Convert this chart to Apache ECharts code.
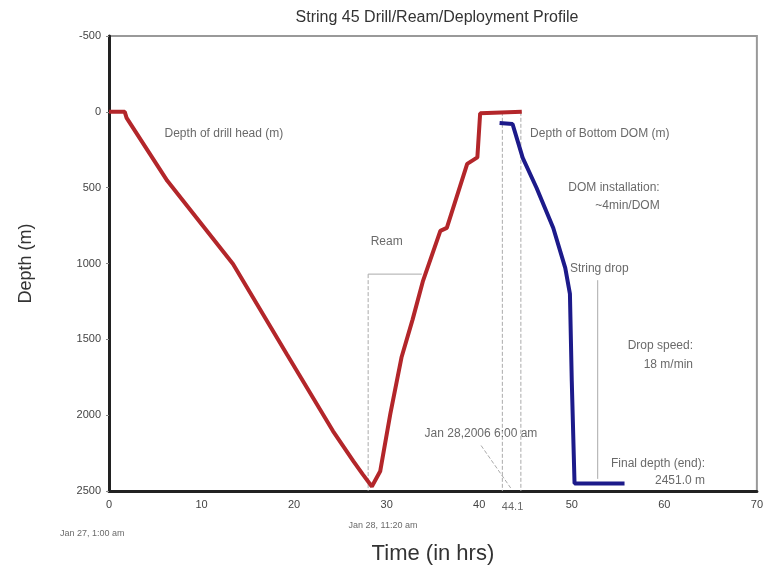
<!DOCTYPE html>
<html><head><meta charset="utf-8">
<script src="https://cdn.jsdelivr.net/npm/echarts@6/dist/echarts.min.js"></script>
<style>html,body{margin:0;padding:0;background:#fff}#c{width:766px;height:578px}</style>
</head><body><div id="c"></div>
<script>
const title = 'String 45 Drill/Ream/Deployment Profile';
const xTicks = [0, 10, 20, 30, 40, 50, 60, 70];
const yTicks = [-500, 0, 500, 1000, 1500, 2000, 2500];
const drillHead = [[0,0],[1.7,0],[1.9,40],[6.3,455],[13.4,1003],[19.2,1597],[24.2,2105],[26.4,2303],[27.4,2389],[28.4,2470],[29.3,2370],[30.4,1990],[31.6,1620],[32.8,1370],[33.9,1120],[35.8,785],[36.5,765],[38.7,343],[39.8,300],[40.1,10],[40.3,0],[44.6,0]];
const bottomDom = [[42.2,73],[43.6,80],[44.7,304],[46.2,502],[48.0,766],[49.3,1030],[49.8,1200],[50.0,1775],[50.3,2451],[55.7,2451]];
// annotation texts: [time, depth, text, align]
const notes = [
  [6.0, 145, 'Depth of drill head (m)', 'left'],
  [45.5, 145, 'Depth of Bottom DOM (m)', 'left'],
  [59.5, 500, 'DOM installation:', 'right'],
  [59.5, 620, '~4min/DOM', 'right'],
  [30.0, 858, 'Ream', 'center'],
  [49.8, 1036, 'String drop', 'left'],
  [63.1, 1545, 'Drop speed:', 'right'],
  [63.1, 1670, '18 m/min', 'right'],
  [34.1, 2119, 'Jan 28,2006 6:00 am', 'left'],
  [64.4, 2317, 'Final depth (end):', 'right'],
  [64.4, 2435, '2451.0 m', 'right']
];
const smallNotes = [
  [-1.8, 2780, 'Jan 27, 1:00 am', 9],
  [29.6, 2725, 'Jan 28, 11:20 am', 9],
  [43.6, 2605, '44.1', 11]
];
const guideLines = [
  [[42.5, 0], [42.5, 2500], 'dashed'],
  [[44.5, 0], [44.5, 2500], 'dashed'],
  [[40.2, 2200], [43.4, 2480], 'dashed'],
  [[52.8, 1110], [52.8, 2420], 'solid'],
  [[28.0, 1070], [33.8, 1070], 'solid'],
  [[28.0, 1070], [28.0, 2500], 'dashed']
];
const chart = echarts.init(document.getElementById('c'));
const series = [
  {type:'line', data: drillHead, showSymbol:false, lineStyle:{color:'#b3262a', width:4}, z:5},
  {type:'line', data: bottomDom, showSymbol:false, lineStyle:{color:'#1c1a8a', width:4}, z:5},
  {type:'scatter', symbolSize:0, clip:false, silent:true,
   data: notes.map(n => ({value:[n[0], n[1]], label:{show:true, position:'inside', align:n[3], formatter:n[2], color:'#444', fontSize:12, fontFamily:'Liberation Sans'}}))},
  {type:'scatter', symbolSize:0, clip:false, silent:true,
   data: smallNotes.map(n => ({value:[n[0], n[1]], label:{show:true, position:'inside', align:'center', formatter:n[2], color:'#444', fontSize:n[3], fontFamily:'Liberation Sans'}}))}
];
guideLines.forEach(g => series.push({type:'line', data:[g[0], g[1]], showSymbol:false, silent:true,
  lineStyle:{color:'#aaa', width:1, type:g[2]}, z:1}));
chart.setOption({
  animation:false,
  title:{text:title, left:432, top:5, textAlign:'center', textStyle:{fontSize:16, fontWeight:'normal', color:'#333', fontFamily:'Liberation Sans'}},
  grid:{left:109, right:9, top:36, bottom:87, show:true, borderColor:'#999', borderWidth:2},
  xAxis:{type:'value', min:xTicks[0], max:xTicks[xTicks.length-1], interval:10,
    name:'Time (in hrs)', nameLocation:'middle', nameGap:52, nameTextStyle:{fontSize:22, color:'#333', fontFamily:'Liberation Sans'},
    axisLine:{show:true, onZero:false, lineStyle:{color:'#222', width:3}}, axisTick:{show:false},
    axisLabel:{color:'#444', fontSize:11, margin:8, fontFamily:'Liberation Sans'}, splitLine:{show:false}},
  yAxis:{type:'value', inverse:true, min:yTicks[0], max:yTicks[yTicks.length-1], interval:500,
    name:'Depth (m)', nameLocation:'middle', nameGap:74, nameTextStyle:{fontSize:18, color:'#333', fontFamily:'Liberation Sans'},
    axisLine:{show:true, onZero:false, lineStyle:{color:'#222', width:3}}, axisTick:{show:true, length:3, lineStyle:{color:'#888'}},
    axisLabel:{color:'#444', fontSize:11, margin:8, fontFamily:'Liberation Sans', formatter: v => String(v)}, splitLine:{show:false}},
  series: series
});
</script></body></html>
